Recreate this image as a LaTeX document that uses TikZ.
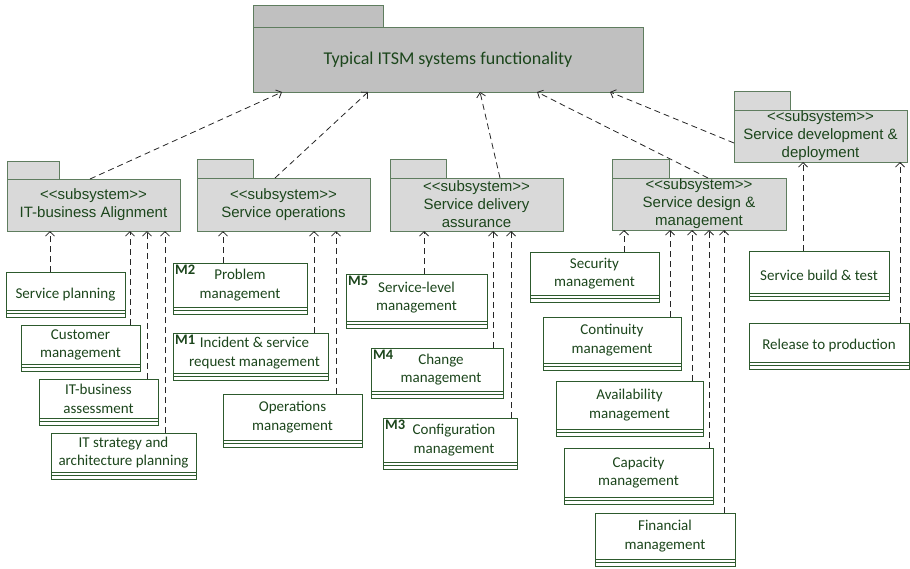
\documentclass[tikz,border=0pt]{standalone}
\usepackage{fontspec}
\setmainfont{Carlito}
\newfontfamily\pkgfont{Liberation Sans}
\usetikzlibrary{arrows.meta}

\definecolor{txtgreen}{RGB}{28,70,28}
\definecolor{leafline}{RGB}{45,90,45}
\definecolor{pkgline}{RGB}{95,125,95}
\definecolor{topfill}{RGB}{192,192,192}
\definecolor{pkgfill}{RGB}{217,217,217}

\tikzset{
  leaf/.style={draw=leafline, fill=white, line width=0.9pt, anchor=north west,
    inner sep=0pt, outer sep=0pt, align=center, text=txtgreen,
    font=\fontsize{15}{18.5}\selectfont},
  strip/.style={draw=leafline, fill=white, line width=0.9pt},
  pkgtab/.style={draw=pkgline, fill=pkgfill, line width=0.9pt, anchor=north west,
    inner sep=0pt, outer sep=0pt},
  pkgbox/.style={draw=pkgline, fill=pkgfill, line width=0.9pt, anchor=north west,
    inner sep=0pt, outer sep=0pt, align=center, text=txtgreen,
    font=\pkgfont\fontsize{15}{18}\selectfont},
  mlabel/.style={anchor=north west, inner sep=0pt, text=txtgreen,
    font=\bfseries\fontsize{14.5}{14.5}\selectfont},
  dep/.style={draw=black!85, line width=0.8pt, dash pattern=on 6pt off 4pt,
    -{Straight Barb[length=4.5pt,width=9pt]}},
}

% strut that lowers a single text line a little inside its box
\newcommand\lowline{\rule{0pt}{17pt}}

% leaf component: name, x1, y1, x2, y2 (outer box incl. bottom strips), text
\newcommand\leafbox[6]{%
  \node[leaf, minimum width={(#4-#2)*1pt}, minimum height={(#5-#3-6.6)*1pt}]
    (#1) at (#2,#3) {#6};
  \draw[strip] (#1.south west) rectangle ([yshift=-6.6pt]#1.south east);
  \draw[strip] ([yshift=-3.3pt]#1.south west) -- ([yshift=-3.3pt]#1.south east);
}
% subsystem package: name, x1, tab top, tab right, box top, x2, y2, text
\newcommand\pkgbox[8]{%
  \node[pkgtab, minimum width={(#4-#2)*1pt}, minimum height={(#5-#3)*1pt}]
    (#1-tab) at (#2,#3) {};
  \node[pkgbox, minimum width={(#6-#2)*1pt}, minimum height={(#7-#5)*1pt}]
    (#1) at (#2,#5) {#8};
}

\begin{document}
\begin{tikzpicture}[x=1pt,y=-1pt]
\useasboundingbox (0,0) rectangle (910,568);

% top-level package
\node[pkgtab, fill=topfill, minimum width=130pt, minimum height=22pt] (top-tab) at (253,5) {};
\node[pkgbox, fill=topfill, minimum width=390pt, minimum height=65pt,
  font=\fontsize{18}{20}\selectfont] (top) at (253,27) {Typical ITSM systems functionality};

% subsystems
\pkgbox{ita}{7}{161}{59}{179}{180}{231}{<{}<subsystem>{}>\\IT-business Alignment}
\pkgbox{so}{197}{159}{253}{178}{370}{231}{<{}<subsystem>{}>\\Service operations}
\pkgbox{sda}{390}{159}{446}{178}{563}{231}{<{}<subsystem>{}>\\Service delivery\\assurance}
\pkgbox{sdm}{612}{159}{669}{178}{786}{230}{<{}<subsystem>{}>\\Service design \&\\management}
\pkgbox{sdd}{734}{91}{790}{110}{907}{162}{<{}<subsystem>{}>\\Service development \&\\deployment}

% IT-business alignment components
\leafbox{sp}{6}{272}{125}{317}{\lowline Service planning}
\leafbox{cm}{21}{325}{140}{371}{Customer\\management}
\leafbox{iba}{39}{379}{158}{425}{IT-business\\assessment}
\leafbox{isa}{51}{433}{196}{479}{IT strategy and\\architecture planning}

% service operations components
\leafbox{pm}{173}{263}{307}{314}{Problem\\management}
\leafbox{im}{173}{333}{328}{380}{\hspace*{8pt}Incident \& service\\\hspace*{8pt}request management}
\leafbox{om}{223}{394}{362}{447}{Operations\\management}

% service delivery assurance components
\leafbox{slm}{346}{274}{487}{328}{Service-level\\management}
\leafbox{chm}{371}{348}{503}{398}{\hspace*{8pt}Change\\\hspace*{8pt}management}
\leafbox{cfg}{383}{418}{517}{469}{\hspace*{8pt}Configuration\\\hspace*{8pt}management}

% service design & management components
\leafbox{sec}{530}{252}{659}{302}{Security\\management}
\leafbox{con}{543}{317}{681}{370}{Continuity\\management}
\leafbox{ava}{556}{381}{703}{436}{Availability\\management}
\leafbox{cap}{564}{448}{713}{504}{Capacity\\management}
\leafbox{fin}{595}{513}{735}{566}{Financial\\management}

% service development & deployment components
\leafbox{sbt}{749}{251}{889}{300}{\lowline Service build \& test}
\leafbox{rtp}{749}{323}{909}{369}{\lowline Release to production}

% module markers
\node[mlabel] (m2) at ([xshift=2pt,yshift=-2pt]pm.north west) {M2};
\node[mlabel] (m1) at ([xshift=2pt,yshift=-2pt]im.north west) {M1};
\node[mlabel] (m5) at ([xshift=2pt,yshift=-2pt]slm.north west) {M5};
\node[mlabel] (m4) at ([xshift=2pt,yshift=-2pt]chm.north west) {M4};
\node[mlabel] (m3) at ([xshift=2pt,yshift=-2pt]cfg.north west) {M3};

% component -> subsystem dependencies
\foreach \n/\s/\dx in {sp/ita/44, cm/ita/109, iba/ita/108, isa/ita/114,
    pm/so/50, im/so/141, om/so/113,
    slm/sda/78, chm/sda/122, cfg/sda/128,
    sec/sdm/94, con/sdm/127, ava/sdm/136, cap/sdm/145, fin/sdm/129,
    sbt/sdd/54, rtp/sdd/151}
  \draw[dep] ([xshift=\dx pt]\n.north west) -- ([xshift=\dx pt]\n.north west |- \s.south);

% subsystem -> top-level dependencies
\draw[dep] ([xshift=83pt]ita.north west) -- ([xshift=29pt]top.south west);
\draw[dep] ([xshift=78pt]so.north west) -- ([xshift=115pt]top.south west);
\draw[dep] ([xshift=110pt]sda.north west) -- ([xshift=227pt]top.south west);
\draw[dep] ([xshift=96pt]sdm.north west) -- ([xshift=284pt]top.south west);
\draw[dep] ([yshift=-7pt]sdd.west) -- ([xshift=357pt]top.south west);
\end{tikzpicture}
\end{document}
